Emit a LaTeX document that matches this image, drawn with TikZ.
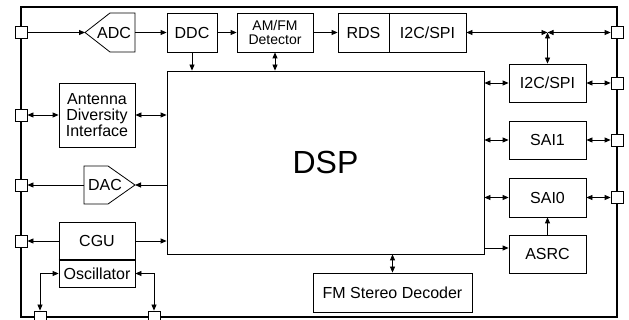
\documentclass[tikz,border=0pt]{standalone}
\usepackage{fontspec}
\setmainfont{Liberation Sans}
\usetikzlibrary{arrows.meta,calc,positioning}

\begin{document}
\begin{tikzpicture}[x=1pt,y=-1pt,
  blk/.style={draw,line width=0.8pt,inner sep=0pt,align=center,font=\fontsize{16}{16}\selectfont},
  pin/.style={draw,line width=0.8pt,fill=white,minimum size=12pt,inner sep=0pt},
  con/.style={line width=0.8pt,-{Triangle[length=6pt,width=5pt]}},
  bicon/.style={line width=0.8pt,{Triangle[length=6pt,width=5pt]}-{Triangle[length=6pt,width=5pt]}}]
  \useasboundingbox (0,0) rectangle (629,320);
  % Chip outline
  \draw[line width=1.1pt] (21,7) rectangle (617,317);
  % Blocks
  \node[blk,minimum width=317pt,minimum height=183pt,font=\fontsize{32}{32}\selectfont] (dsp) at (325.5,162.5) {DSP};
  \node[blk,minimum width=50pt,minimum height=39pt] (ddc) at (192,32.5) {DDC};
  \node[blk,minimum width=76pt,minimum height=39pt,font=\fontsize{14}{14}\selectfont] (det) at (275,32.5) {AM/FM\\Detector};
  \node[blk,minimum width=51pt,minimum height=39pt] (rds) at (363.5,32.5) {RDS};
  \node[blk,minimum width=77pt,minimum height=39pt] (i2ca) at (427.5,32.5) {I2C/SPI};
  \node[blk,minimum width=77pt,minimum height=38pt] (i2cb) at (547.5,83) {I2C/SPI};
  \node[blk,minimum width=77pt,minimum height=38pt] (sai1) at (547.5,140) {SAI1};
  \node[blk,minimum width=77pt,minimum height=39pt] (sai0) at (547.5,197.5) {SAI0};
  \node[blk,minimum width=77pt,minimum height=38pt] (asrc) at (547.5,254) {ASRC};
  \node[blk,minimum width=76pt,minimum height=64pt] (adi) at (97,115) {Antenna\\Diversity\\Interface};
  \node[blk,minimum width=76pt,minimum height=38pt] (cgu) at (97,241) {CGU};
  \node[blk,minimum width=76pt,minimum height=27pt] (osc) at (97,273.5) {Oscillator};
  \node[blk,minimum width=159pt,minimum height=39pt] (fmsd) at (392.5,292.5) {FM Stereo Decoder};
  \draw[line width=1.6pt] (rds.north east) -- (rds.south east);
  \draw[line width=1.6pt] (osc.north west) -- (osc.north east);
  % Converters
  \draw[line width=0.8pt] (85,32.5) -- (110,13) -- (135,13) -- (135,52) -- (110,52) -- cycle;
  \coordinate (adcin) at (85,32.5);
  \coordinate (adcout) at (135,32.5);
  \node[font=\fontsize{16}{16}\selectfont] (adc) at (114,32.5) {ADC};
  \draw[line width=0.8pt] (84,166) -- (108,166) -- (135,185) -- (108,204) -- (84,204) -- cycle;
  \coordinate (dacin) at (135,185);
  \coordinate (dacout) at (84,185);
  \node[font=\fontsize{16}{16}\selectfont] (dac) at (105,185) {DAC};
  % Pins
  \foreach \n/\y in {1/32.5,2/115,3/185,4/241}
    \node[pin] (pl\n) at (21,\y) {};
  \foreach \n/\y in {1/32.5,2/83,3/140,4/197.5}
    \node[pin] (pr\n) at (617,\y) {};
  \node[pin] (pb1) at (40,317) {};
  \node[pin] (pb2) at (154,317) {};
  % Connections
  \draw[con] (pl1) -- (adcin);
  \draw[con] (adcout) -- (ddc);
  \draw[con] (ddc) -- (det);
  \draw[con] (det) -- (rds);
  \coordinate (jn) at (547.5,32.5);
  \draw[bicon] (i2ca) -- (jn);
  \draw[bicon] (jn) -- (pr1);
  \draw[bicon] (jn) -- (i2cb);
  \draw[con] (ddc) -- (ddc |- dsp.north);
  \draw[bicon] (det) -- (det |- dsp.north);
  \draw[bicon] (pl2) -- (adi);
  \draw[bicon] (adi) -- (adi -| dsp.west);
  \draw[con] (dacin -| dsp.west) -- (dacin);
  \draw[con] (dacout) -- (pl3);
  \draw[con] (cgu) -- (pl4);
  \draw[con] (cgu) -- (cgu -| dsp.west);
  \draw[bicon] (pb1) |- (osc.west);
  \draw[bicon] (pb2) |- (osc.east);
  \foreach \b/\p in {i2cb/pr2,sai1/pr3,sai0/pr4} {
    \draw[bicon] (\b -| dsp.east) -- (\b);
    \draw[bicon] (\b) -- (\p);
  }
  \coordinate (dspasrc) at (484,248);
  \draw[con] (dspasrc) -- (dspasrc -| asrc.west);
  \draw[con] (asrc) -- (sai0);
  \draw[bicon] (fmsd |- dsp.south) -- (fmsd);
\end{tikzpicture}
\end{document}
